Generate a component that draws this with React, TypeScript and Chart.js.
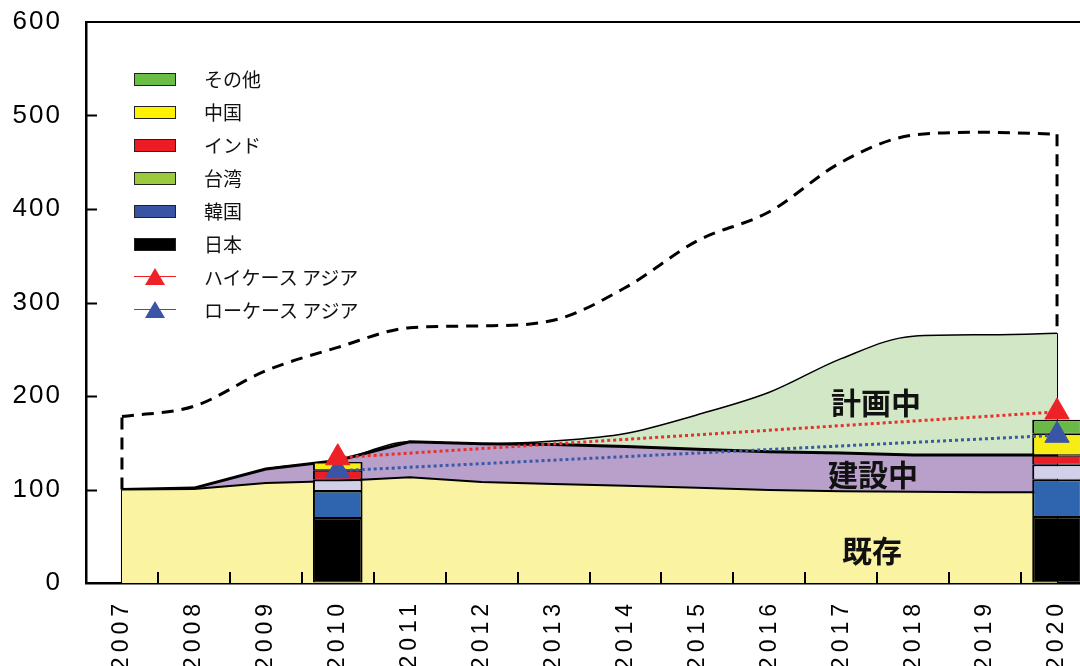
import React, { useEffect, useRef } from 'react';
import { Chart, registerables } from 'chart.js';

Chart.register(...registerables);

// ---------- data ----------
const years = ['2007', '2008', '2009', '2010', '2011', '2012', '2013', '2014', '2015', '2016', '2017', '2018', '2019', '2020'];
const yTicks = [0, 100, 200, 300, 400, 500, 600];

// stacked areas (既存 / 建設中 / 計画中)
const existing = [100, 100.5, 107, 109, 113, 108, 106, 104, 102, 99.5, 98, 97.5, 97, 97];
const underConstruction = [0, 1, 15, 22, 38, 41, 42, 42, 41, 41, 41, 39.5, 40, 40];
const planned = [0, 0, 0, 0, 0, 0, 4, 14, 37, 63.5, 101, 127, 128.5, 130];
// upper dashed outline
const upperOutline = [178, 189, 227, 252, 273, 275, 281, 316, 366, 397, 450, 479, 482, 480];

// stacked bars at 2010 and 2020
const japan = [null, null, null, 69.5, null, null, null, null, null, null, null, null, null, 70.5];
const korea = [null, null, null, 29, null, null, null, null, null, null, null, null, null, 40];
const taiwan = [null, null, null, 12, null, null, null, null, null, null, null, null, null, 16];
const india = [null, null, null, 10, null, null, null, null, null, null, null, null, null, 10];
const china = [null, null, null, 9, null, null, null, null, null, null, null, null, null, 23];
const others = [null, null, null, null, null, null, null, null, null, null, null, null, null, 15];

// high / low case (Asia)
const highCase = [null, null, null, 134, null, null, null, null, null, null, null, null, null, 183];
const lowCase = [null, null, null, 120, null, null, null, null, null, null, null, null, null, 158];

const areaLabels = ['既存', '建設中', '計画中'];
const legendItems = ['その他', '中国', 'インド', '台湾', '韓国', '日本'];
const legendColors = ['#6cbd45', '#fff200', '#ed1c24', '#9bcb3c', '#3853a4', '#000000'];
const lineLegend = ['ハイケース アジア', 'ローケース アジア'];

const RED = '#ee2226';
const BLUE = '#3a55a5';

const decorPlugin = {
  id: 'decor',
  beforeDraw(chart: any) {
    const spacing: Record<string, string> = { x: '5px', y: '2px' };
    Object.keys(spacing).forEach((id) => {
      const sc = chart.scales[id];
      if (sc && !sc.__wrapped) {
        const orig = sc.drawLabels;
        sc.drawLabels = function (area: any) {
          const ctx = this.ctx;
          ctx.save();
          ctx.letterSpacing = spacing[id];
          orig.call(this, area);
          ctx.restore();
        };
        sc.__wrapped = true;
      }
    });
  },
  beforeDatasetsDraw(chart: any) {
    const { ctx, scales } = chart;
    const x = scales.x;
    const y = scales.y;
    const n = years.length - 1;
    const top0 = existing[0] + underConstruction[0] + planned[0];
    const topN = existing[n] + underConstruction[n] + planned[n];
    const x0 = x.getPixelForValue(0);
    const xN = x.getPixelForValue(n);
    ctx.save();
    ctx.strokeStyle = '#000';
    ctx.lineWidth = 2;
    ctx.beginPath();
    ctx.moveTo(x0, y.getPixelForValue(0));
    ctx.lineTo(x0, y.getPixelForValue(top0));
    ctx.moveTo(xN, y.getPixelForValue(0));
    ctx.lineTo(xN, y.getPixelForValue(topN));
    ctx.stroke();
    ctx.setLineDash([12, 8]);
    ctx.lineWidth = 3;
    ctx.beginPath();
    ctx.moveTo(x0, y.getPixelForValue(top0));
    ctx.lineTo(x0, y.getPixelForValue(upperOutline[0]));
    ctx.moveTo(xN, y.getPixelForValue(upperOutline[n]));
    ctx.lineTo(xN, y.getPixelForValue(topN));
    ctx.stroke();
    ctx.restore();
  },
  afterDraw(chart: any) {
    const { ctx, chartArea, scales } = chart;
    const x = scales.x;
    const y = scales.y;
    ctx.save();
    ctx.strokeStyle = '#000';
    ctx.lineWidth = 2;
    ctx.beginPath();
    yTicks.slice(1, -1).forEach((v) => {
      const py = Math.round(y.getPixelForValue(v)) + 0.5;
      ctx.moveTo(chartArea.left, py);
      ctx.lineTo(chartArea.left + 11, py);
    });
    for (let i = 1; i < years.length; i++) {
      const px = Math.round((x.getPixelForValue(i - 1) + x.getPixelForValue(i)) / 2);
      ctx.moveTo(px, chartArea.bottom);
      ctx.lineTo(px, chartArea.bottom - 11);
    }
    ctx.stroke();
    ctx.beginPath();
    ctx.lineWidth = 2;
    ctx.moveTo(chartArea.left, chartArea.top);
    ctx.lineTo(chartArea.right, chartArea.top);
    ctx.lineTo(chartArea.right, chartArea.bottom);
    ctx.stroke();
    ctx.restore();
  },
};

function barSet(label: string, data: (number | null)[], color: string) {
  return {
    type: 'bar' as const,
    label,
    data,
    stack: 'bars',
    order: 1,
    backgroundColor: color,
    borderColor: '#000',
    borderWidth: { top: 1.5, bottom: 1, left: 2, right: 2 },
    borderSkipped: false,
    barPercentage: 0.69,
    categoryPercentage: 1,
  };
}

export default function App() {
  const canvasRef = useRef<HTMLCanvasElement | null>(null);

  useEffect(() => {
    if (!canvasRef.current) return;
    Chart.defaults.font.family = '"Liberation Sans", Arial, sans-serif';
    const chart = new Chart(canvasRef.current, {
      type: 'line',
      data: {
        labels: years,
        datasets: [
          {
            label: areaLabels[0],
            data: existing,
            stack: 'area',
            order: 3,
            fill: 'origin',
            backgroundColor: '#faf3a1',
            borderColor: '#000',
            borderWidth: 2,
            pointRadius: 0,
            tension: 0,
          },
          {
            label: areaLabels[1],
            data: underConstruction,
            stack: 'area',
            order: 3,
            fill: '-1',
            backgroundColor: '#b8a0cb',
            borderColor: '#000',
            borderWidth: 3,
            pointRadius: 0,
            tension: 0,
          },
          {
            label: areaLabels[2],
            data: planned,
            stack: 'area',
            order: 3,
            fill: '-1',
            backgroundColor: '#d1e7c5',
            borderColor: '#000',
            borderWidth: 1.5,
            pointRadius: 0,
            cubicInterpolationMode: 'monotone',
          },
          {
            label: 'upper',
            data: upperOutline,
            stack: 'upper',
            order: 2,
            fill: false,
            borderColor: '#000',
            borderWidth: 3,
            borderDash: [12, 8],
            pointRadius: 0,
            cubicInterpolationMode: 'monotone',
          },
          barSet(legendItems[5], japan, '#000000'),
          barSet(legendItems[4], korea, '#2f64ae'),
          barSet(legendItems[3], taiwan, '#d2d0e8'),
          barSet(legendItems[2], india, '#ec1c24'),
          barSet(legendItems[1], china, '#f7ec13'),
          barSet(legendItems[0], others, '#6ab845'),
          {
            label: lineLegend[0],
            data: highCase,
            stack: 'high',
            order: 0,
            fill: false,
            spanGaps: true,
            borderColor: '#e8302c',
            borderWidth: 3,
            borderDash: [3, 3],
            pointStyle: 'triangle',
            pointRadius: 14,
            pointBackgroundColor: RED,
            pointBorderColor: RED,
            pointBorderWidth: 1,
          },
          {
            label: lineLegend[1],
            data: lowCase,
            stack: 'low',
            order: 0,
            fill: false,
            spanGaps: true,
            borderColor: '#3a5aa8',
            borderWidth: 3,
            borderDash: [3, 3],
            pointStyle: 'triangle',
            pointRadius: 14,
            pointBackgroundColor: BLUE,
            pointBorderColor: BLUE,
            pointBorderWidth: 1,
          },
        ] as any,
      },
      options: {
        responsive: false,
        devicePixelRatio: 1,
        animation: false,
        events: [],
        layout: { padding: { top: 22, right: 6, left: 0, bottom: 0 } },
        plugins: {
          legend: { display: false },
          tooltip: { enabled: false },
        },
        scales: {
          x: {
            type: 'category',
            offset: true,
            grid: { display: true, drawOnChartArea: false, drawTicks: false, offset: true },
            border: { display: true, color: '#000', width: 2.5 },
            ticks: {
              autoSkip: false,
              maxRotation: 90,
              minRotation: 90,
              padding: 16,
              color: '#000',
              font: { size: 23, family: '"Liberation Sans", Arial, sans-serif' },
            },
            afterFit(scale: any) {
              scale.height = 83;
            },
          },
          y: {
            stacked: true,
            min: 0,
            max: 600,
            grid: { display: true, drawOnChartArea: false, drawTicks: false },
            border: { display: true, color: '#000', width: 2.5 },
            ticks: {
              stepSize: 100,
              padding: 24,
              color: '#000',
              font: { size: 26, family: '"Liberation Sans", Arial, sans-serif' },
            },
            afterFit(scale: any) {
              scale.width = 86;
              scale.paddingTop = 0;
              scale.paddingBottom = 0;
            },
          },
        },
      },
      plugins: [decorPlugin],
    } as any);
    return () => chart.destroy();
  }, []);

  const jp = '"Noto Sans CJK JP", sans-serif';
  const rowTop = 79;
  const rowGap = 33;

  return (
    <div style={{ position: 'absolute', left: 0, top: 0, width: 1080, height: 666, overflow: 'hidden', background: '#fff' }}>
      <canvas ref={canvasRef} width={1108} height={666} style={{ display: 'block', width: 1108, height: 666 }} />
      {legendItems.map((name, i) => (
        <React.Fragment key={name}>
          <div
            style={{
              position: 'absolute',
              left: 134,
              top: rowTop + rowGap * i - 6.5,
              width: 42,
              height: 13,
              boxSizing: 'border-box',
              border: '1.5px solid #222',
              background: legendColors[i],
            }}
          />
          <div
            style={{
              position: 'absolute',
              left: 204,
              top: rowTop + rowGap * i - 13,
              height: 26,
              lineHeight: '26px',
              fontFamily: jp,
              fontSize: 19,
              color: '#111',
              whiteSpace: 'nowrap',
            }}
          >
            {name}
          </div>
        </React.Fragment>
      ))}
      {lineLegend.map((name, i) => {
        const cy = rowTop + rowGap * (legendItems.length + i) - 0.5;
        const col = i === 0 ? RED : BLUE;
        return (
          <React.Fragment key={name}>
            <div style={{ position: 'absolute', left: 134, top: cy - 0.75, width: 42, height: 1.5, background: col }} />
            <div
              style={{
                position: 'absolute',
                left: 145,
                top: cy - 9,
                width: 0,
                height: 0,
                borderLeft: '10px solid transparent',
                borderRight: '10px solid transparent',
                borderBottom: `17px solid ${col}`,
              }}
            />
            <div
              style={{
                position: 'absolute',
                left: 204,
                top: cy - 13,
                height: 26,
                lineHeight: '26px',
                fontFamily: jp,
                fontSize: 19,
                color: '#111',
                whiteSpace: 'nowrap',
              }}
            >
              {name}
            </div>
          </React.Fragment>
        );
      })}
      {[
        { t: areaLabels[2], x: 876, y: 401 },
        { t: areaLabels[1], x: 873, y: 473 },
        { t: areaLabels[0], x: 872, y: 549 },
      ].map((l) => (
        <div
          key={l.t}
          style={{
            position: 'absolute',
            left: l.x,
            top: l.y,
            transform: 'translate(-50%, -50%)',
            fontFamily: jp,
            fontWeight: 700,
            fontSize: 30,
            lineHeight: '30px',
            color: '#111',
            whiteSpace: 'nowrap',
          }}
        >
          {l.t}
        </div>
      ))}
    </div>
  );
}
